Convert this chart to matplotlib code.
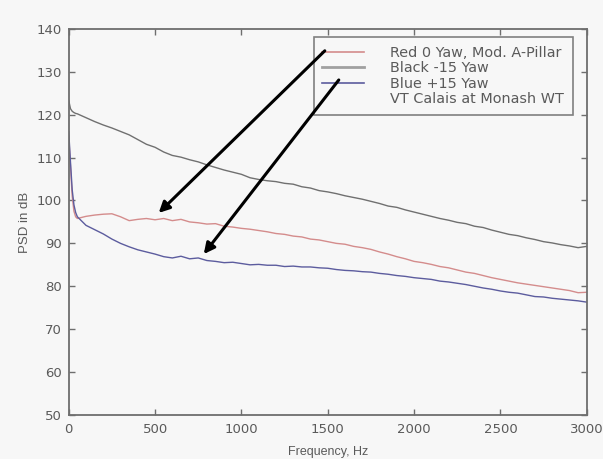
import matplotlib
matplotlib.use("Agg")
import matplotlib.pyplot as plt
from matplotlib.lines import Line2D

# frequency grid (Hz)
freq = [0, 10, 20, 30, 40] + list(range(50, 3001, 50))

# PSD in dB
red_0yaw = [115.0, 108.0, 101.0, 97.5, 96.2,
            95.8, 96.3, 96.6, 96.8, 96.9, 96.2, 95.3, 95.6, 95.8, 95.5,
            95.8, 95.3, 95.6, 95.0, 94.8, 94.5, 94.6, 94.0, 93.8, 93.5,
            93.3, 93.0, 92.7, 92.3, 92.1, 91.7, 91.5, 91.0, 90.8, 90.4,
            90.0, 89.8, 89.3, 89.0, 88.6, 88.0, 87.5, 86.9, 86.4, 85.8,
            85.5, 85.1, 84.6, 84.3, 83.8, 83.3, 83.0, 82.5, 82.0, 81.6,
            81.2, 80.8, 80.5, 80.2, 79.9, 79.6, 79.3, 79.0, 78.5, 78.6]

black_m15 = [123.3, 121.4, 120.8, 120.5, 120.3,
             120.2, 119.3, 118.4, 117.6, 116.9, 116.1, 115.3, 114.2, 113.1, 112.4,
             111.3, 110.5, 110.1, 109.5, 109.0, 108.3, 107.7, 107.1, 106.6, 106.1,
             105.3, 104.9, 104.6, 104.4, 104.0, 103.8, 103.2, 102.9, 102.3, 102.0,
             101.6, 101.1, 100.7, 100.3, 99.8, 99.3, 98.7, 98.4, 97.8, 97.3,
             96.8, 96.3, 95.8, 95.4, 94.9, 94.6, 94.0, 93.7, 93.1, 92.6,
             92.1, 91.8, 91.3, 90.9, 90.4, 90.1, 89.7, 89.4, 89.0, 89.3]

blue_p15 = [116.0, 109.0, 102.5, 99.0, 97.2,
            96.2, 94.2, 93.2, 92.2, 91.0, 90.0, 89.2, 88.5, 88.0, 87.5,
            86.9, 86.6, 87.0, 86.4, 86.6, 86.0, 85.8, 85.5, 85.6, 85.3,
            85.0, 85.1, 84.9, 84.9, 84.6, 84.7, 84.5, 84.5, 84.3, 84.2,
            83.9, 83.7, 83.6, 83.4, 83.3, 83.0, 82.8, 82.5, 82.3, 82.0,
            81.8, 81.6, 81.2, 81.0, 80.7, 80.4, 80.0, 79.6, 79.3, 78.9,
            78.6, 78.4, 78.0, 77.6, 77.5, 77.2, 77.0, 76.8, 76.6, 76.3]

legend_labels = ["Red 0 Yaw, Mod. A-Pillar", "Black -15 Yaw", "Blue +15 Yaw",
                 "VT Calais at Monash WT"]

bg = "#f7f7f7"
grey = "#6e6e6e"
txt = "#5a5a5a"
c_red = "#d48c8c"
c_black = "#707070"
c_blue = "#5c5c9e"

plt.rcParams["font.family"] = ["DejaVu Sans"]

fig = plt.figure(figsize=(6.03, 4.59), dpi=100, facecolor=bg)
ax = fig.add_axes([0.114, 0.096, 0.859, 0.841], facecolor=bg)

ax.plot(freq, black_m15, color=c_black, lw=1.0)
ax.plot(freq, red_0yaw, color=c_red, lw=1.0)
ax.plot(freq, blue_p15, color=c_blue, lw=1.0)

ax.set_xlim(0, 3000)
ax.set_ylim(50, 140)
ax.set_xticks(range(0, 3001, 500))
ax.set_yticks(range(50, 141, 10))
ax.tick_params(direction="in", top=True, right=True, length=4, width=1,
               color=grey, labelcolor=txt, labelsize=9.5)
ax.tick_params(axis="x", pad=6)
ax.tick_params(axis="y", pad=5)
for s in ax.spines.values():
    s.set_color(grey)
    s.set_linewidth(1.3)

ax.set_xlabel("Frequency, Hz", fontsize=9, color=txt, labelpad=7,
              family="Liberation Sans")
ax.set_ylabel("PSD in dB", fontsize=9.5, color=txt, labelpad=4,
              family="Liberation Sans")

handles = [Line2D([], [], color=c_red, lw=1.2),
           Line2D([], [], color="#a0a0a0", lw=2.0),
           Line2D([], [], color=c_blue, lw=1.2),
           Line2D([], [], color="none")]
leg = ax.legend(handles, legend_labels, loc="upper right",
                bbox_to_anchor=(0.973, 0.979), fontsize=10.4, frameon=True,
                fancybox=False, edgecolor="#808080", facecolor=bg, framealpha=1,
                handlelength=2.9, handletextpad=1.8, labelspacing=0.1,
                borderpad=0.6, borderaxespad=0)
leg.set_zorder(4)
for t in leg.get_texts():
    t.set_color(txt)
leg.get_frame().set_linewidth(1.2)

# the two black arrows pointing from the legend to the curves
arrow = dict(arrowstyle="-|>", color="black", lw=2.2, mutation_scale=16,
             shrinkA=0, shrinkB=0)
ax.annotate("", xy=(521, 97.1), xytext=(1483, 134.9), arrowprops=arrow,
            zorder=6)
ax.annotate("", xy=(782, 87.5), xytext=(1564, 128.1), arrowprops=arrow,
            zorder=6)

fig.savefig("out.png", dpi=100, facecolor=bg)
